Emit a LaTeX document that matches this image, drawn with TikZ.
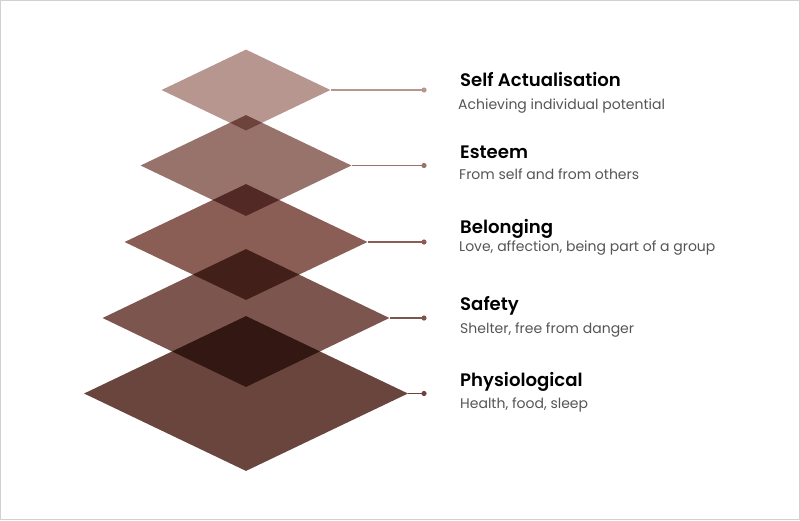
\documentclass[tikz,border=0pt]{standalone}
\usepackage{fontspec}
\setmainfont{Poppins}[BoldFont={Poppins SemiBold}]
\usepackage{tikz}
\usetikzlibrary{shapes.geometric, positioning}
\definecolor{levelA}{HTML}{B89690}
\definecolor{levelB}{HTML}{98736C}
\definecolor{levelC}{HTML}{8A5D55}
\definecolor{levelD}{HTML}{7C564E}
\definecolor{levelE}{HTML}{69453D}
\definecolor{subgray}{HTML}{555555}
\tikzstyle{layer} = [diamond, inner sep=0, draw=none]
\tikzstyle{leader} = [line width=1.2pt]
\tikzstyle{title} = [anchor=base west, inner sep=0, text=black, font=\fontsize{18.1}{20}\selectfont\bfseries]
\tikzstyle{desc} = [anchor=base west, inner sep=0, text=subgray, font=\fontsize{14}{17}\selectfont]

\begin{document}
\begin{tikzpicture}[x=1pt, y=-1pt]
				\useasboundingbox (0, 0) rectangle (800, 520);
				\draw [gray!35, line width=1pt] (0.5, 0.5) rectangle (799.5, 519.5);

				% the stacked layers
				\begin{scope}[blend group=multiply]
				\node (SelfAct) [layer, fill=levelA, minimum width=169, minimum height=81] at (246, 90) {};
				\node (Esteem) [layer, fill=levelB, minimum width=211, minimum height=101] at (246, 165.5) {};
				\node (Belong) [layer, fill=levelC, minimum width=243, minimum height=116] at (246, 242) {};
				\node (Safety) [layer, fill=levelD, minimum width=287, minimum height=138] at (246, 318) {};
				\node (Physio) [layer, fill=levelE, minimum width=324, minimum height=155] at (246, 393.5) {};
				\end{scope}

				% self actualisation
				\coordinate (SelfActDot) at (424, 90);
				\draw [leader, levelA] (SelfAct.east) -- (SelfActDot);
				\fill [levelA] (SelfActDot) circle (2.6);
				\node (SelfActTitle) [title] at (460, 86) {Self Actualisation};
				\node (SelfActDesc) [desc] at (458, 109) {Achieving individual potential};

				% esteem
				\coordinate (EsteemDot) at (424, 165.5);
				\draw [leader, levelB] (Esteem.east) -- (EsteemDot);
				\fill [levelB] (EsteemDot) circle (2.6);
				\node (EsteemTitle) [title] at (460, 158.5) {Esteem};
				\node (EsteemDesc) [desc] at (459, 179.5) {From self and from others};

				% belonging
				\coordinate (BelongDot) at (424, 242);
				\draw [leader, levelC] (Belong.east) -- (BelongDot);
				\fill [levelC] (BelongDot) circle (2.6);
				\node (BelongTitle) [title] at (460, 233) {Belonging};
				\node (BelongDesc) [desc] at (459, 251) {Love, affection, being part of a group};

				% safety
				\coordinate (SafetyDot) at (424, 318);
				\draw [leader, levelD] (Safety.east) -- (SafetyDot);
				\fill [levelD] (SafetyDot) circle (2.6);
				\node (SafetyTitle) [title] at (460, 310.5) {Safety};
				\node (SafetyDesc) [desc] at (460, 333) {Shelter, free from danger};

				% physiological
				\coordinate (PhysioDot) at (424, 393.5);
				\draw [leader, levelE] (Physio.east) -- (PhysioDot);
				\fill [levelE] (PhysioDot) circle (2.6);
				\node (PhysioTitle) [title] at (460, 386) {Physiological};
				\node (PhysioDesc) [desc] at (460, 408) {Health, food, sleep};
\end{tikzpicture}
\end{document}
